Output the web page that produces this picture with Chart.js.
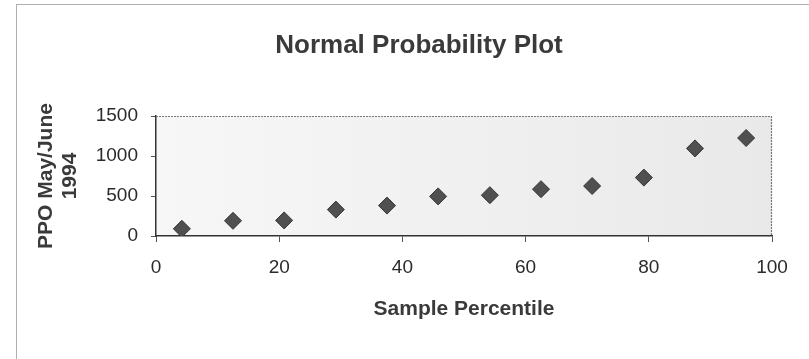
<!DOCTYPE html>
<html>
<head>
<meta charset="utf-8">
<script src="https://cdn.jsdelivr.net/npm/chart.js@4/dist/chart.umd.min.js"></script>
<style>
  html, body { margin: 0; padding: 0; background: #fff; }
  #wrap { width: 809px; height: 359px; position: relative; }
</style>
</head>
<body>
<div id="wrap"><canvas id="npp"></canvas></div>
<script>
// sample percentile (x) and PPO May/June 1994 values (y)
const percentiles = [4.2, 12.5, 20.8, 29.2, 37.5, 45.8, 54.2, 62.5, 70.8, 79.2, 87.5, 95.8];
const ppoValues = [90, 190, 195, 330, 380, 495, 510, 585, 625, 730, 1095, 1225];
const xTicks = [0, 20, 40, 60, 80, 100];
const yTicks = [0, 500, 1000, 1500];

const TITLE = 'Normal Probability Plot';
const FONT = "'Liberation Sans', Arial, sans-serif";
const INK = '#2b2b2b';

// plot frame, outer chart border and the title text
const frame = {
  id: 'frame',
  beforeDraw(chart) {
    const { ctx, chartArea: a } = chart;
    ctx.save();
    ctx.strokeStyle = '#b0b0b0';
    ctx.lineWidth = 1;
    ctx.strokeRect(16.5, 4.5, 900, 500);
    const g = ctx.createLinearGradient(a.left, 0, a.right, 0);
    g.addColorStop(0, '#f7f7f7');
    g.addColorStop(1, '#e9e9e9');
    ctx.fillStyle = g;
    ctx.fillRect(a.left, a.top, a.right - a.left, a.bottom - a.top);
    ctx.restore();
  },
  afterDatasetsDraw(chart) {
    const { ctx, chartArea: a } = chart;
    ctx.save();
    ctx.strokeStyle = '#7a7a7a';
    ctx.lineWidth = 1.2;
    ctx.setLineDash([2, 1]);
    ctx.beginPath();
    ctx.moveTo(a.left, a.top + 0.5);
    ctx.lineTo(a.right - 0.5, a.top + 0.5);
    ctx.lineTo(a.right - 0.5, a.bottom);
    ctx.stroke();
    ctx.restore();
  },
  afterDraw(chart) {
    const { ctx } = chart;
    ctx.save();
    ctx.fillStyle = '#3a3a3a';
    ctx.font = 'bold 26px ' + FONT;
    ctx.textAlign = 'center';
    ctx.textBaseline = 'alphabetic';
    ctx.fillText(TITLE, 419, 53);
    ctx.restore();
  }
};

new Chart(document.getElementById('npp'), {
  type: 'scatter',
  data: {
    datasets: [{
      data: percentiles.map((x, i) => ({ x, y: ppoValues[i] })),
      pointStyle: 'rectRot',
      pointRadius: 8.5,
      pointHoverRadius: 8.5,
      backgroundColor: '#505050',
      borderColor: '#363636',
      borderWidth: 1
    }]
  },
  options: {
    responsive: true,
    maintainAspectRatio: false,
    animation: false,
    layout: { padding: { left: 10, right: 37, top: 116, bottom: 37 } },
    plugins: {
      legend: { display: false },
      tooltip: { enabled: false }
    },
    scales: {
      x: {
        type: 'linear',
        min: 0, max: 100,
        afterBuildTicks: (s) => { s.ticks = xTicks.map(v => ({ value: v })); },
        grid: { drawOnChartArea: false, tickLength: 6, color: '#555' },
        border: { color: '#333', width: 1.5, dash: [2, 1] },
        ticks: { color: INK, padding: 14, font: { family: FONT, size: 19 }, callback: (v) => String(v) },
        title: {
          display: true,
          text: 'Sample Percentile',
          color: '#3a3a3a',
          padding: { top: 4, bottom: 0 },
          font: { family: FONT, size: 21, weight: 'bold', lineHeight: 1.2 }
        }
      },
      y: {
        min: 0, max: 1500,
        afterBuildTicks: (s) => { s.ticks = yTicks.map(v => ({ value: v })); },
        afterFit: (s) => { s.width = 146; },
        grid: { drawOnChartArea: false, tickLength: 5, color: '#555' },
        border: { color: '#333', width: 1.5, dash: [2, 1] },
        ticks: { color: INK, padding: 13, font: { family: FONT, size: 19 }, callback: (v) => String(v) },
        title: {
          display: true,
          text: ['PPO May/June', '1994'],
          color: '#3a3a3a',
          padding: { top: 24, bottom: 0 },
          font: { family: FONT, size: 21, weight: 'bold', lineHeight: '24px' }
        }
      }
    }
  },
  plugins: [frame]
});
</script>
</body>
</html>
